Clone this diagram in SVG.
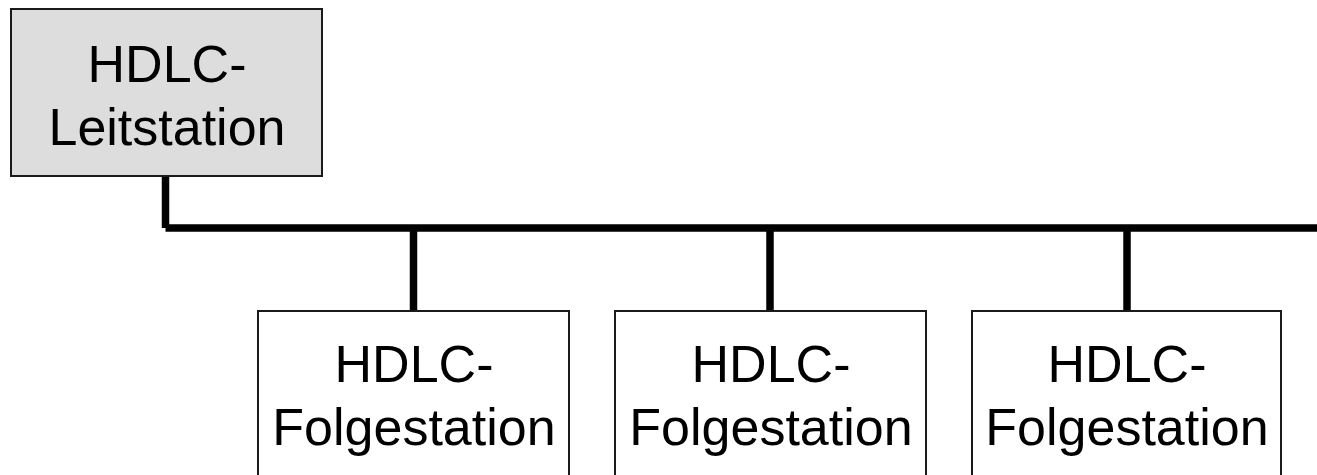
<svg xmlns="http://www.w3.org/2000/svg" width="1317" height="475" viewBox="0 0 1317 475">
<style>
.box{stroke:#1a1a1a;stroke-width:2}
.lead{fill:#dddddd}
.follow{fill:#ffffff}
.lbl{font-family:"Liberation Sans",Arial,sans-serif;font-size:52px;fill:#000;text-anchor:middle}
.wire{stroke:#000;stroke-width:7.5;fill:none}
</style>
<rect width="1317" height="475" fill="#fff"/>
<g id="connectors">
<line class="wire" x1="165.5" y1="176" x2="165.5" y2="228"/>
<line class="wire" x1="165.5" y1="228" x2="1317" y2="228"/>
<line class="wire" x1="413.5" y1="228" x2="413.5" y2="311"/>
<line class="wire" x1="770" y1="228" x2="770" y2="311"/>
<line class="wire" x1="1127" y1="228" x2="1127" y2="311"/>
</g>
<g id="leitstation">
<rect class="box lead" x="11" y="9" width="311" height="167"/>
<text class="lbl" x="167" y="81.5">HDLC-</text>
<text class="lbl" x="167" y="145">Leitstation</text>
</g>
<g id="folgestation1">
<rect class="box follow" x="258" y="311" width="311" height="180"/>
<text class="lbl" x="414" y="381.5">HDLC-</text>
<text class="lbl" x="414" y="445">Folgestation</text>
</g>
<g id="folgestation2">
<rect class="box follow" x="615" y="311" width="311" height="180"/>
<text class="lbl" x="771" y="381.5">HDLC-</text>
<text class="lbl" x="771" y="445">Folgestation</text>
</g>
<g id="folgestation3">
<rect class="box follow" x="972" y="311" width="309" height="180"/>
<text class="lbl" x="1127" y="381.5">HDLC-</text>
<text class="lbl" x="1127" y="445">Folgestation</text>
</g>
</svg>
